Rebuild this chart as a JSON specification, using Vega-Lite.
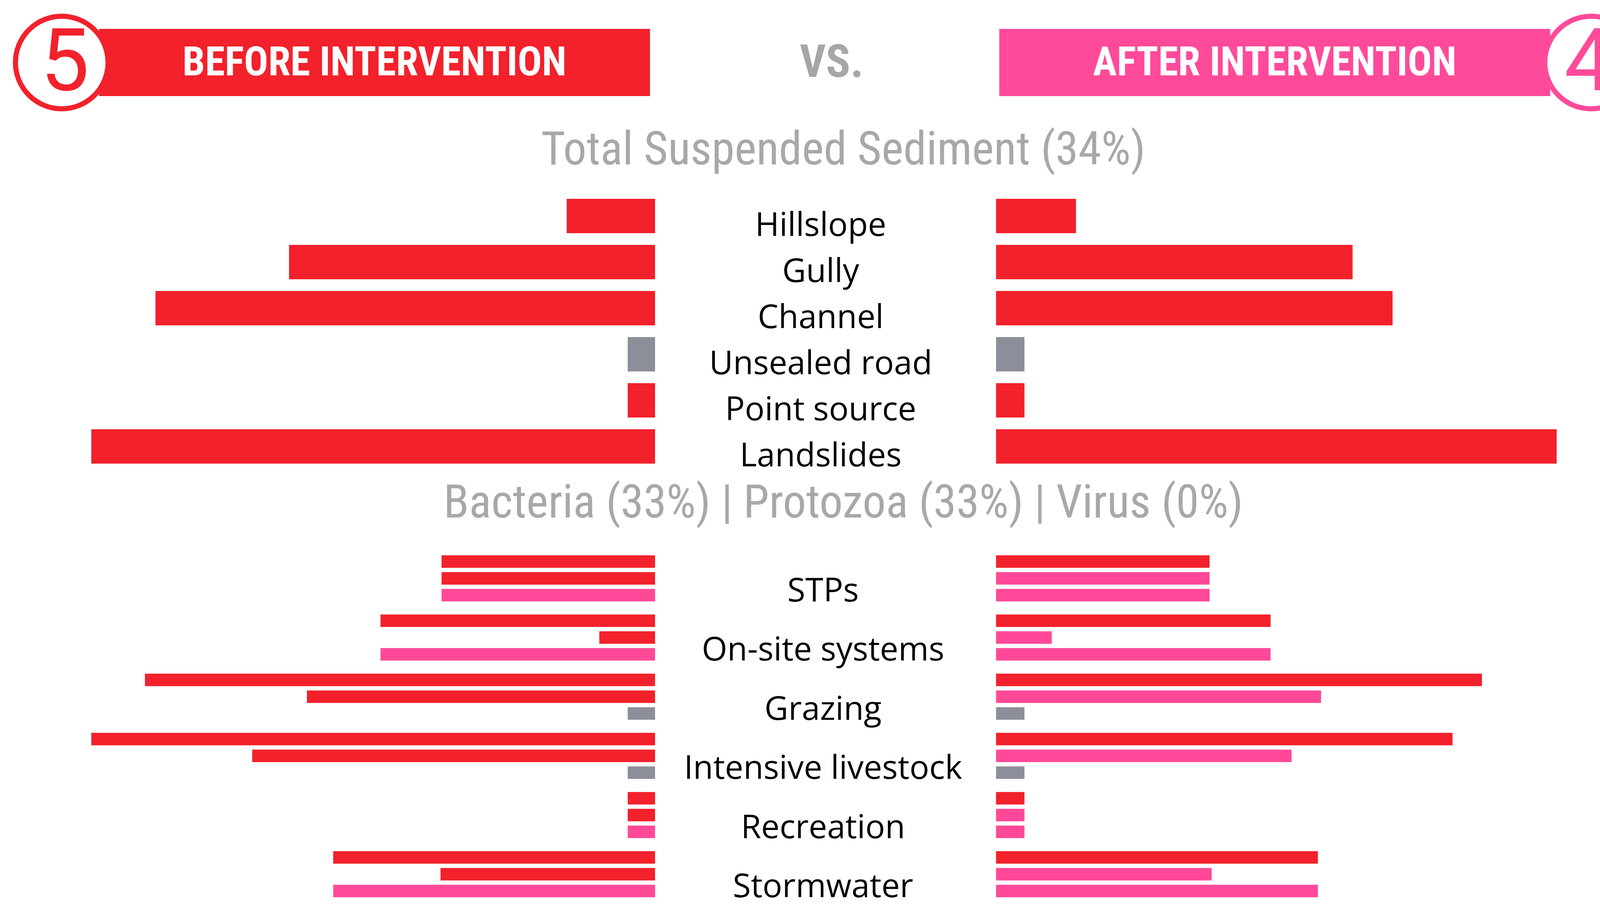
{
  "$schema": "https://vega.github.io/schema/vega-lite/v6.json",
  "padding": {"left": 0, "top": 15, "right": 24, "bottom": 20},
  "background": "white",
  "config": {"view": {"stroke": null}},
  "resolve": {"scale": {"color": "independent", "stroke": "independent"}},
  "datasets": {
    "header": [
      {"side": "Before", "label": "BEFORE INTERVENTION", "number": "5"},
      {"side": "After", "label": "AFTER INTERVENTION", "number": "4"}
    ],
    "tss": [
      {"source": "Hillslope", "side": "Before", "value": 84, "rating": "high"},
      {"source": "Gully", "side": "Before", "value": 348, "rating": "high"},
      {"source": "Channel", "side": "Before", "value": 475, "rating": "high"},
      {"source": "Unsealed road", "side": "Before", "value": 26, "rating": "low"},
      {"source": "Point source", "side": "Before", "value": 26, "rating": "high"},
      {"source": "Landslides", "side": "Before", "value": 536, "rating": "high"},
      {"source": "Hillslope", "side": "After", "value": 76, "rating": "high"},
      {"source": "Gully", "side": "After", "value": 339, "rating": "high"},
      {"source": "Channel", "side": "After", "value": 377, "rating": "high"},
      {"source": "Unsealed road", "side": "After", "value": 27, "rating": "low"},
      {"source": "Point source", "side": "After", "value": 27, "rating": "high"},
      {"source": "Landslides", "side": "After", "value": 533, "rating": "high"}
    ],
    "pathogens": [
      {"source": "STPs", "pathogen": "Bacteria", "side": "Before", "value": 203, "rating": "high"},
      {"source": "STPs", "pathogen": "Protozoa", "side": "Before", "value": 203, "rating": "high"},
      {"source": "STPs", "pathogen": "Virus", "side": "Before", "value": 203, "rating": "medium"},
      {"source": "On-site systems", "pathogen": "Bacteria", "side": "Before", "value": 261, "rating": "high"},
      {"source": "On-site systems", "pathogen": "Protozoa", "side": "Before", "value": 53, "rating": "high"},
      {"source": "On-site systems", "pathogen": "Virus", "side": "Before", "value": 261, "rating": "medium"},
      {"source": "Grazing", "pathogen": "Bacteria", "side": "Before", "value": 485, "rating": "high"},
      {"source": "Grazing", "pathogen": "Protozoa", "side": "Before", "value": 331, "rating": "high"},
      {"source": "Grazing", "pathogen": "Virus", "side": "Before", "value": 26, "rating": "low"},
      {"source": "Intensive livestock", "pathogen": "Bacteria", "side": "Before", "value": 536, "rating": "high"},
      {"source": "Intensive livestock", "pathogen": "Protozoa", "side": "Before", "value": 383, "rating": "high"},
      {"source": "Intensive livestock", "pathogen": "Virus", "side": "Before", "value": 26, "rating": "low"},
      {"source": "Recreation", "pathogen": "Bacteria", "side": "Before", "value": 26, "rating": "high"},
      {"source": "Recreation", "pathogen": "Protozoa", "side": "Before", "value": 26, "rating": "high"},
      {"source": "Recreation", "pathogen": "Virus", "side": "Before", "value": 26, "rating": "medium"},
      {"source": "Stormwater", "pathogen": "Bacteria", "side": "Before", "value": 306, "rating": "high"},
      {"source": "Stormwater", "pathogen": "Protozoa", "side": "Before", "value": 204, "rating": "high"},
      {"source": "Stormwater", "pathogen": "Virus", "side": "Before", "value": 306, "rating": "medium"},
      {"source": "STPs", "pathogen": "Bacteria", "side": "After", "value": 203, "rating": "high"},
      {"source": "STPs", "pathogen": "Protozoa", "side": "After", "value": 203, "rating": "medium"},
      {"source": "STPs", "pathogen": "Virus", "side": "After", "value": 203, "rating": "medium"},
      {"source": "On-site systems", "pathogen": "Bacteria", "side": "After", "value": 261, "rating": "high"},
      {"source": "On-site systems", "pathogen": "Protozoa", "side": "After", "value": 53, "rating": "medium"},
      {"source": "On-site systems", "pathogen": "Virus", "side": "After", "value": 261, "rating": "medium"},
      {"source": "Grazing", "pathogen": "Bacteria", "side": "After", "value": 462, "rating": "high"},
      {"source": "Grazing", "pathogen": "Protozoa", "side": "After", "value": 309, "rating": "medium"},
      {"source": "Grazing", "pathogen": "Virus", "side": "After", "value": 27, "rating": "low"},
      {"source": "Intensive livestock", "pathogen": "Bacteria", "side": "After", "value": 434, "rating": "high"},
      {"source": "Intensive livestock", "pathogen": "Protozoa", "side": "After", "value": 281, "rating": "medium"},
      {"source": "Intensive livestock", "pathogen": "Virus", "side": "After", "value": 27, "rating": "low"},
      {"source": "Recreation", "pathogen": "Bacteria", "side": "After", "value": 27, "rating": "high"},
      {"source": "Recreation", "pathogen": "Protozoa", "side": "After", "value": 27, "rating": "medium"},
      {"source": "Recreation", "pathogen": "Virus", "side": "After", "value": 27, "rating": "medium"},
      {"source": "Stormwater", "pathogen": "Bacteria", "side": "After", "value": 306, "rating": "high"},
      {"source": "Stormwater", "pathogen": "Protozoa", "side": "After", "value": 205, "rating": "medium"},
      {"source": "Stormwater", "pathogen": "Virus", "side": "After", "value": 306, "rating": "medium"}
    ]
  },
  "spacing": 203,
  "bounds": "flush",
  "vconcat": [
    {
      "width": 4222,
      "height": 217,
      "data": {"name": "header"},
      "encoding": {
        "y": {"datum": "banner", "type": "nominal", "scale": {"paddingInner": 0, "paddingOuter": 0.1308, "align": 0}, "axis": null}
      },
      "layer": [
        {
          "mark": {"type": "rect"},
          "encoding": {
            "x": {"field": "side", "type": "nominal", "scale": {"domain": ["Before", "After"], "paddingInner": 0.388, "paddingOuter": 0.11}, "axis": null},
            "color": {"field": "side", "type": "nominal", "scale": {"domain": ["Before", "After"], "range": ["#F2212B", "#FF4A9A"]}, "legend": null}
          }
        },
        {
          "transform": [{"filter": "datum.side === 'Before'"}],
          "mark": {"type": "point", "shape": "circle", "filled": false, "fill": "white", "fillOpacity": 1, "strokeWidth": 13, "size": 56169, "opacity": 1},
          "encoding": {
            "x": {"field": "side", "type": "nominal", "bandPosition": -0.0677, "axis": null},
            "stroke": {"field": "side", "type": "nominal", "scale": {"domain": ["Before", "After"], "range": ["#F2212B", "#FF4A9A"]}, "legend": null}
          }
        },
        {
          "transform": [{"filter": "datum.side === 'After'"}],
          "mark": {"type": "point", "shape": "circle", "filled": false, "fill": "white", "fillOpacity": 1, "strokeWidth": 13, "size": 56169, "opacity": 1},
          "encoding": {
            "x": {"field": "side", "type": "nominal", "bandPosition": 1.0742, "axis": null},
            "stroke": {"field": "side", "type": "nominal", "scale": {"domain": ["Before", "After"], "range": ["#F2212B", "#FF4A9A"]}, "legend": null}
          }
        },
        {
          "transform": [{"filter": "datum.side === 'Before'"}],
          "mark": {"type": "text", "font": "Roboto", "fontSize": 222, "baseline": "middle", "dy": 4, "dx": 8},
          "encoding": {
            "x": {"field": "side", "type": "nominal", "bandPosition": -0.0677, "axis": null},
            "text": {"field": "number"},
            "color": {"field": "side", "type": "nominal", "legend": null}
          }
        },
        {
          "transform": [{"filter": "datum.side === 'After'"}],
          "mark": {"type": "text", "font": "Roboto", "fontSize": 222, "baseline": "middle", "dy": 4, "dx": -6},
          "encoding": {
            "x": {"field": "side", "type": "nominal", "bandPosition": 1.0742, "axis": null},
            "text": {"field": "number"},
            "color": {"field": "side", "type": "nominal", "legend": null}
          }
        },
        {
          "mark": {"type": "text", "font": "Roboto Condensed, Liberation Sans Narrow, DejaVu Sans Condensed, Roboto", "fontSize": 103, "fontWeight": "bold", "fill": "white", "baseline": "middle", "dy": 2},
          "encoding": {
            "x": {"field": "side", "type": "nominal", "axis": null},
            "text": {"field": "label"}
          }
        },
        {
          "data": {"values": [{"label": "VS."}]},
          "mark": {"type": "text", "font": "Roboto Condensed, Liberation Sans Narrow, DejaVu Sans Condensed, Roboto", "fontSize": 116, "fontWeight": "bold", "fill": "#A6A6A6", "baseline": "middle", "dx": 18, "dy": 2},
          "encoding": {"text": {"field": "label"}}
        }
      ]
    },
    {
      "width": 4222,
      "height": 708,
      "data": {"name": "tss"},
      "title": {"text": "Total Suspended Sediment (34%)", "anchor": "middle", "frame": "group", "font": "Roboto Condensed, Liberation Sans Narrow, DejaVu Sans Condensed, Roboto", "fontSize": 119, "fontWeight": "normal", "color": "#A8A8A8", "baseline": "middle", "offset": 5, "dx": 48, "dy": 15},
      "encoding": {
        "y": {"field": "source", "type": "nominal", "sort": null, "axis": null, "scale": {"paddingInner": 0.254, "paddingOuter": 0.127}}
      },
      "layer": [
        {
          "transform": [{"filter": "datum.side === 'Before'"}],
          "mark": {"type": "bar"},
          "encoding": {
            "x": {"field": "value", "type": "quantitative", "scale": {"domain": [-945.2, 622.8], "reverse": true, "nice": false, "zero": false}, "axis": null},
            "color": {"field": "rating", "type": "nominal", "scale": {"domain": ["high", "medium", "low"], "range": ["#F2212B", "#FF4998", "#8C8F99"]}, "legend": null}
          }
        },
        {
          "transform": [{"filter": "datum.side === 'After'"}],
          "mark": {"type": "bar"},
          "encoding": {
            "x": {"field": "value", "type": "quantitative", "scale": {"domain": [-947, 621], "nice": false, "zero": false}, "axis": null},
            "color": {"field": "rating", "type": "nominal", "scale": {"domain": ["high", "medium", "low"], "range": ["#F2212B", "#FF4998", "#8C8F99"]}, "legend": null}
          }
        },
        {
          "transform": [{"filter": "datum.side === 'Before'"}],
          "mark": {"type": "text", "font": "Open Sans", "fontSize": 84, "color": "#000000", "baseline": "middle", "dy": 26, "dx": -10},
          "encoding": {"text": {"field": "source"}}
        }
      ],
      "resolve": {"scale": {"x": "independent"}}
    },
    {
      "width": 4222,
      "height": 909,
      "data": {"name": "pathogens"},
      "title": {"text": "Bacteria (33%) | Protozoa (33%) | Virus (0%)", "anchor": "middle", "frame": "group", "font": "Roboto Condensed, Liberation Sans Narrow, DejaVu Sans Condensed, Roboto", "fontSize": 119, "fontWeight": "normal", "color": "#A8A8A8", "baseline": "middle", "offset": 12, "dx": 48, "dy": 15},
      "encoding": {
        "y": {"field": "source", "type": "nominal", "sort": null, "axis": null, "scale": {"paddingInner": 0.221, "paddingOuter": 0.1105}}
      },
      "layer": [
        {
          "transform": [{"filter": "datum.side === 'Before'"}],
          "mark": {"type": "bar"},
          "encoding": {
            "yOffset": {"field": "pathogen", "type": "nominal", "sort": null, "scale": {"paddingInner": 0.256, "paddingOuter": 0}},
            "x": {"field": "value", "type": "quantitative", "scale": {"domain": [-945.2, 622.8], "reverse": true, "nice": false, "zero": false}, "axis": null},
            "color": {"field": "rating", "type": "nominal", "scale": {"domain": ["high", "medium", "low"], "range": ["#F2212B", "#FF4998", "#8C8F99"]}, "legend": null}
          }
        },
        {
          "transform": [{"filter": "datum.side === 'After'"}],
          "mark": {"type": "bar"},
          "encoding": {
            "yOffset": {"field": "pathogen", "type": "nominal", "sort": null, "scale": {"paddingInner": 0.256, "paddingOuter": 0}},
            "x": {"field": "value", "type": "quantitative", "scale": {"domain": [-947, 621], "nice": false, "zero": false}, "axis": null},
            "color": {"field": "rating", "type": "nominal", "scale": {"domain": ["high", "medium", "low"], "range": ["#F2212B", "#FF4998", "#8C8F99"]}, "legend": null}
          }
        },
        {
          "transform": [{"filter": "datum.side === 'Before' && datum.pathogen === 'Bacteria'"}],
          "mark": {"type": "text", "font": "Open Sans", "fontSize": 84, "color": "#000000", "baseline": "middle", "dy": 34, "dx": -4},
          "encoding": {"text": {"field": "source"}}
        }
      ],
      "resolve": {"scale": {"x": "independent"}}
    }
  ]
}
